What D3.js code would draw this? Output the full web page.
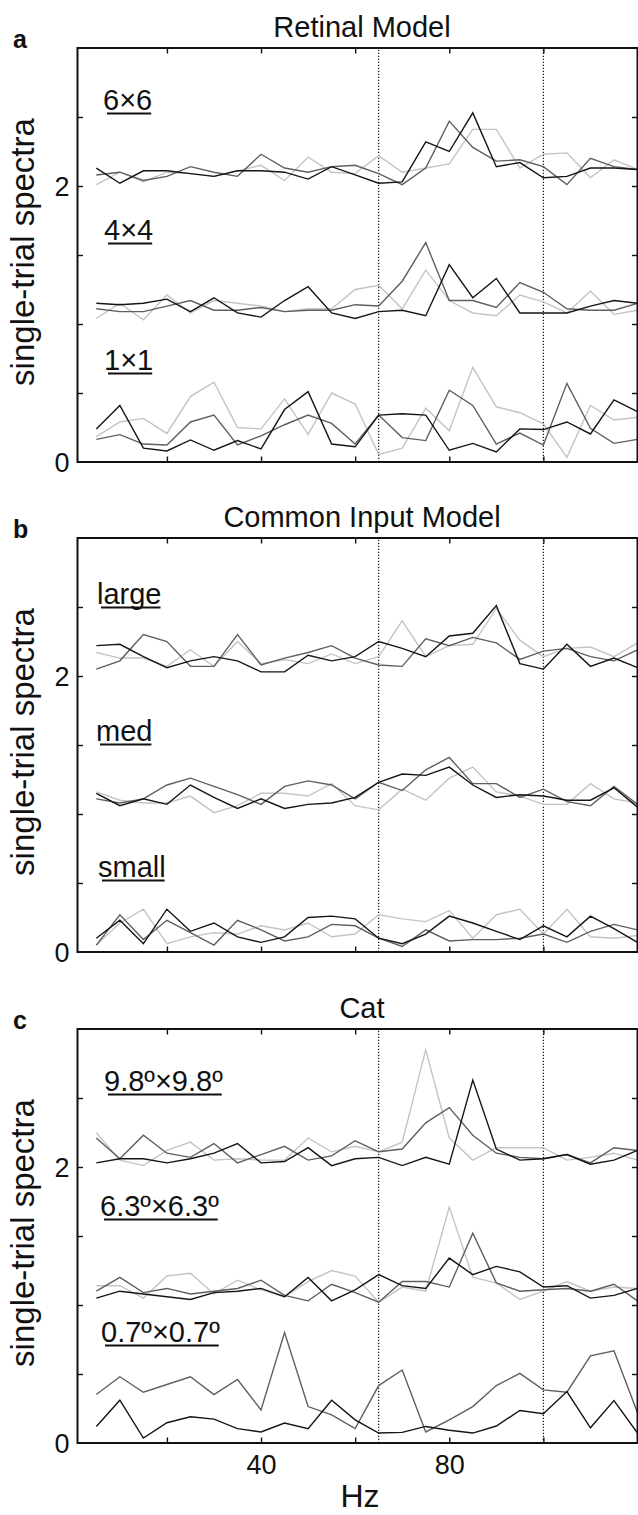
<!DOCTYPE html>
<html>
<head>
<meta charset="utf-8">
<script src="https://cdn.jsdelivr.net/npm/d3@7"></script>
<style>
  body { margin: 0; background: #fff; }
  text { font-family: "Liberation Sans", Arial, Helvetica, sans-serif; fill: #111; }
</style>
</head>
<body>
<script>
const width = 638;
const height = 1515;

// frequencies (Hz) of each spectrum sample
const hz = [5, 10, 15, 20, 25, 30, 35, 40, 45, 50, 55, 60, 65, 70, 75, 80, 85, 90, 95, 100, 105, 110, 115, 120];
const xTicks = [20, 40, 60, 80, 100];
const xTickLabels = ["", "40", "", "80", ""];
const yTicks = [0.5, 1, 1.5, 2, 2.5];
const yTickLabels = ["0", "2"];
const yTickLabelValues = [0, 2];
const bandEdges = [65, 100];

// each group: [black, dark gray, light gray] trials
const retinal6x6 = [
  [2.13, 2.02, 2.11, 2.11, 2.09, 2.07, 2.11, 2.11, 2.10, 2.05, 2.14, 2.08, 2.02, 2.03, 2.32, 2.25, 2.53, 2.14, 2.17, 2.06, 2.07, 2.13, 2.13, 2.12],
  [2.08, 2.10, 2.04, 2.07, 2.14, 2.10, 2.07, 2.23, 2.13, 2.10, 2.14, 2.15, 2.09, 2.01, 2.13, 2.47, 2.28, 2.18, 2.19, 2.14, 2.01, 2.20, 2.14, 2.12],
  [2.01, 2.10, 2.03, 2.10, 2.09, 2.07, 2.11, 2.15, 2.04, 2.21, 2.10, 2.09, 2.22, 2.10, 2.13, 2.16, 2.41, 2.41, 2.13, 2.23, 2.24, 2.06, 2.19, 2.12]
];
const retinal4x4 = [
  [1.15, 1.14, 1.15, 1.18, 1.09, 1.19, 1.08, 1.05, 1.17, 1.27, 1.08, 1.04, 1.09, 1.10, 1.06, 1.43, 1.19, 1.33, 1.08, 1.08, 1.08, 1.13, 1.17, 1.15],
  [1.11, 1.09, 1.09, 1.13, 1.17, 1.10, 1.10, 1.12, 1.09, 1.10, 1.10, 1.14, 1.13, 1.31, 1.59, 1.17, 1.17, 1.12, 1.30, 1.23, 1.11, 1.10, 1.10, 1.15],
  [1.04, 1.15, 1.03, 1.21, 1.08, 1.17, 1.15, 1.13, 1.09, 1.11, 1.11, 1.25, 1.28, 1.11, 1.39, 1.17, 1.08, 1.06, 1.21, 1.16, 1.08, 1.24, 1.07, 1.10]
];
const retinal1x1 = [
  [0.24, 0.41, 0.10, 0.08, 0.16, 0.085, 0.155, 0.095, 0.38, 0.51, 0.13, 0.11, 0.34, 0.35, 0.34, 0.085, 0.135, 0.073, 0.24, 0.235, 0.29, 0.203, 0.45, 0.365],
  [0.164, 0.198, 0.13, 0.123, 0.29, 0.34, 0.123, 0.19, 0.27, 0.34, 0.28, 0.13, 0.34, 0.177, 0.155, 0.52, 0.41, 0.13, 0.21, 0.123, 0.57, 0.244, 0.135, 0.164],
  [0.184, 0.29, 0.316, 0.207, 0.474, 0.578, 0.25, 0.24, 0.457, 0.20, 0.50, 0.42, 0.055, 0.10, 0.39, 0.227, 0.686, 0.40, 0.357, 0.276, 0.034, 0.41, 0.304, 0.324]
];
const commonLarge = [
  [2.22, 2.23, 2.14, 2.06, 2.11, 2.14, 2.11, 2.03, 2.03, 2.15, 2.11, 2.14, 2.25, 2.20, 2.14, 2.29, 2.31, 2.51, 2.09, 2.05, 2.23, 2.07, 2.13, 2.06],
  [2.05, 2.11, 2.30, 2.25, 2.07, 2.07, 2.30, 2.08, 2.13, 2.17, 2.22, 2.13, 2.08, 2.07, 2.27, 2.22, 2.28, 2.24, 2.12, 2.18, 2.20, 2.14, 2.11, 2.19],
  [2.17, 2.13, 2.13, 2.07, 2.19, 2.07, 2.25, 2.09, 2.12, 2.09, 2.16, 2.09, 2.14, 2.40, 2.14, 2.22, 2.23, 2.49, 2.26, 2.14, 2.20, 2.21, 2.14, 2.24]
];
const commonMed = [
  [1.15, 1.06, 1.11, 1.07, 1.21, 1.12, 1.04, 1.11, 1.04, 1.07, 1.08, 1.12, 1.23, 1.29, 1.28, 1.34, 1.21, 1.12, 1.14, 1.13, 1.10, 1.10, 1.19, 1.05],
  [1.11, 1.08, 1.11, 1.21, 1.26, 1.20, 1.14, 1.07, 1.20, 1.24, 1.21, 1.11, 1.23, 1.17, 1.32, 1.41, 1.22, 1.22, 1.12, 1.18, 1.09, 1.06, 1.20, 1.07],
  [1.16, 1.10, 1.08, 1.08, 1.13, 1.01, 1.06, 1.15, 1.15, 1.13, 1.22, 1.06, 1.03, 1.18, 1.10, 1.26, 1.34, 1.16, 1.13, 1.07, 1.07, 1.22, 1.11, 1.08]
];
const commonSmall = [
  [0.10, 0.23, 0.06, 0.31, 0.15, 0.21, 0.11, 0.07, 0.11, 0.25, 0.26, 0.24, 0.10, 0.06, 0.13, 0.26, 0.21, 0.15, 0.09, 0.19, 0.11, 0.26, 0.17, 0.07],
  [0.05, 0.27, 0.09, 0.23, 0.14, 0.05, 0.23, 0.16, 0.08, 0.11, 0.20, 0.19, 0.10, 0.04, 0.16, 0.08, 0.09, 0.09, 0.10, 0.13, 0.07, 0.15, 0.20, 0.16],
  [0.05, 0.21, 0.31, 0.06, 0.11, 0.14, 0.13, 0.19, 0.16, 0.21, 0.11, 0.13, 0.27, 0.24, 0.22, 0.30, 0.10, 0.27, 0.31, 0.13, 0.31, 0.11, 0.10, 0.12]
];
const cat98 = [
  [2.03, 2.06, 2.06, 2.03, 2.06, 2.10, 2.17, 2.03, 2.04, 2.14, 2.01, 2.06, 2.07, 2.01, 2.07, 2.02, 2.63, 2.13, 2.05, 2.06, 2.09, 2.02, 2.05, 2.12],
  [2.21, 2.06, 2.23, 2.10, 2.07, 2.17, 2.03, 2.09, 2.15, 2.05, 2.08, 2.19, 2.11, 2.13, 2.32, 2.43, 2.23, 2.10, 2.07, 2.06, 2.09, 2.03, 2.14, 2.12],
  [2.25, 2.05, 2.01, 2.12, 2.18, 2.05, 2.06, 2.05, 2.05, 2.21, 2.11, 2.15, 2.11, 2.18, 2.85, 2.21, 2.05, 2.14, 2.14, 2.14, 2.05, 2.07, 2.10, 2.05]
];
const cat63 = [
  [1.05, 1.10, 1.08, 1.06, 1.04, 1.09, 1.10, 1.12, 1.06, 1.20, 1.03, 1.11, 1.22, 1.14, 1.12, 1.34, 1.22, 1.28, 1.24, 1.13, 1.14, 1.05, 1.07, 1.12],
  [1.10, 1.20, 1.09, 1.12, 1.08, 1.10, 1.12, 1.18, 1.07, 1.03, 1.15, 1.09, 1.02, 1.17, 1.17, 1.13, 1.52, 1.16, 1.10, 1.11, 1.12, 1.10, 1.15, 1.03],
  [1.14, 1.14, 1.05, 1.21, 1.23, 1.08, 1.18, 1.11, 1.06, 1.17, 1.25, 1.21, 1.02, 1.13, 1.10, 1.71, 1.20, 1.16, 1.04, 1.10, 1.17, 1.10, 1.13, 1.12]
];
const cat07 = [
  [0.12, 0.31, 0.036, 0.147, 0.19, 0.173, 0.104, 0.08, 0.145, 0.104, 0.31, 0.168, 0.072, 0.077, 0.12, 0.092, 0.072, 0.123, 0.236, 0.212, 0.373, 0.11, 0.307, 0.072],
  [0.351, 0.48, 0.368, 0.424, 0.48, 0.351, 0.46, 0.24, 0.80, 0.264, 0.204, 0.104, 0.416, 0.529, 0.08, 0.168, 0.264, 0.416, 0.505, 0.385, 0.368, 0.632, 0.668, 0.22]
];

const trialColors = ["#151515", "#5f5f5f", "#c4c4c4"];

const panels = [
  { letter: "a", title: "Retinal Model", top: 48, showX: false,
    groups: [
      { label: "6×6", data: retinal6x6, lx: 103, ly: 110 },
      { label: "4×4", data: retinal4x4, lx: 104, ly: 240 },
      { label: "1×1", data: retinal1x1, lx: 104, ly: 370 }
    ] },
  { letter: "b", title: "Common Input Model", top: 538, showX: false,
    groups: [
      { label: "large", data: commonLarge, lx: 97, ly: 604 },
      { label: "med", data: commonMed, lx: 96, ly: 741 },
      { label: "small", data: commonSmall, lx: 98, ly: 877 }
    ] },
  { letter: "c", title: "Cat", top: 1029, showX: true,
    groups: [
      { label: "9.8º×9.8º", data: cat98, lx: 104, ly: 1091 },
      { label: "6.3º×6.3º", data: cat63, lx: 100, ly: 1216 },
      { label: "0.7º×0.7º", data: cat07, lx: 101, ly: 1342 }
    ] }
];

const plotLeft = 77.5, plotRight = 637.5, plotH = 414;

const svg = d3.select("body").append("svg")
    .attr("width", width)
    .attr("height", height);

const x = d3.scaleLinear().domain([1, 120]).range([plotLeft, plotRight]);

panels.forEach(p => {
  const y = d3.scaleLinear().domain([0, 3]).range([p.top + plotH, p.top]);
  const g = svg.append("g");

  // title and panel letter
  g.append("text")
    .attr("x", 362).attr("y", p.top - 11)
    .attr("text-anchor", "middle")
    .style("font-size", "29px")
    .text(p.title);
  g.append("text")
    .attr("x", 13).attr("y", p.top)
    .style("font-size", "25px").style("font-weight", "bold")
    .text(p.letter);

  // dotted band edges
  g.selectAll(".band").data(bandEdges).join("line")
    .attr("x1", d => x(d)).attr("x2", d => x(d))
    .attr("y1", y(0)).attr("y2", y(3))
    .attr("stroke", "#111").attr("stroke-width", 1.2)
    .attr("stroke-dasharray", "1.2,1.8");

  // spectra
  const line = d3.line().x((d, i) => x(hz[i])).y(d => y(d));
  p.groups.forEach(grp => {
    const order = grp.data.map((d, i) => i).reverse();
    order.forEach(i => {
      g.append("path")
        .datum(grp.data[i])
        .attr("d", line)
        .attr("fill", "none")
        .attr("stroke", trialColors[i])
        .attr("stroke-width", 1.4)
        .attr("stroke-linejoin", "miter");
    });

    const t = g.append("text")
      .attr("x", grp.lx).attr("y", grp.ly)
      .style("font-size", "29px")
      .text(grp.label);
    const len = t.node().getComputedTextLength();
    g.append("line")
      .attr("x1", grp.lx + 4).attr("x2", grp.lx + len - 1)
      .attr("y1", grp.ly + 3.5).attr("y2", grp.ly + 3.5)
      .attr("stroke", "#111").attr("stroke-width", 2);
  });

  // axes with inward ticks
  const bottom = g.append("g").attr("transform", `translate(0,${y(0)})`)
    .call(d3.axisBottom(x).tickValues(xTicks).tickSize(-5.5).tickPadding(12)
      .tickFormat((d, i) => p.showX ? xTickLabels[i] : ""));
  const top = g.append("g").attr("transform", `translate(0,${y(3)})`)
    .call(d3.axisTop(x).tickValues(xTicks).tickSize(-5.5).tickFormat(""));
  const left = g.append("g").attr("transform", `translate(${plotLeft},0)`)
    .call(d3.axisLeft(y).tickValues(yTicks).tickSize(-5.5).tickFormat(""));
  const right = g.append("g").attr("transform", `translate(${plotRight},0)`)
    .call(d3.axisRight(y).tickValues(yTicks).tickSize(-5.5).tickFormat(""));
  [bottom, top, left, right].forEach(a => {
    a.select(".domain").remove();
    a.selectAll(".tick line").attr("stroke", "#111").attr("stroke-width", 1.4);
  });
  bottom.selectAll(".tick text").style("font-size", "27px").attr("fill", "#111")
    .style("font-family", "'Liberation Sans', Arial, sans-serif");

  // y tick labels 0 and 2
  g.selectAll(".ylab").data(yTickLabelValues).join("text")
    .attr("x", plotLeft - 8).attr("y", d => y(d))
    .attr("dy", "0.36em")
    .attr("text-anchor", "end")
    .style("font-size", "27px")
    .text((d, i) => yTickLabels[i]);

  // frame
  g.append("rect")
    .attr("x", plotLeft).attr("y", y(3))
    .attr("width", plotRight - plotLeft).attr("height", plotH)
    .attr("fill", "none").attr("stroke", "#111").attr("stroke-width", 2);

  // y axis title
  g.append("text")
    .attr("transform", `translate(34,${p.top + plotH / 2 - 3}) rotate(-90)`)
    .attr("text-anchor", "middle")
    .style("font-size", "33px")
    .text("single-trial spectra");
});

svg.append("text")
  .attr("x", 360).attr("y", 1507)
  .attr("text-anchor", "middle")
  .style("font-size", "32px")
  .text("Hz");
</script>
</body>
</html>
